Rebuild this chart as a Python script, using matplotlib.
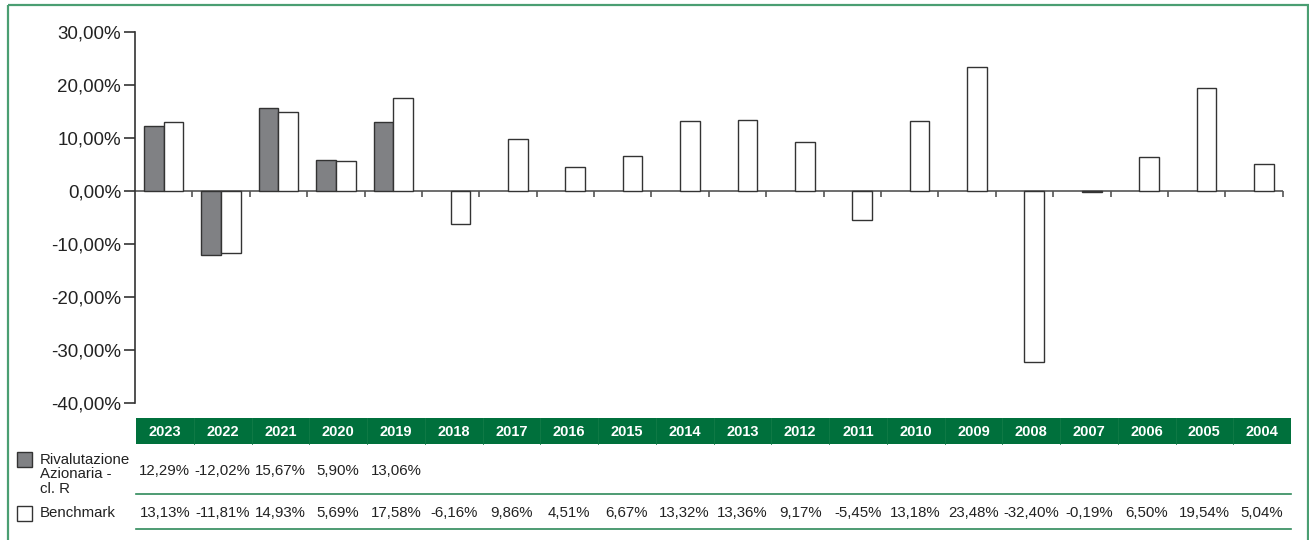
import numpy as np
import matplotlib
matplotlib.use("Agg")
import matplotlib.pyplot as plt
from matplotlib.patches import Rectangle

plt.rcParams['font.family'] = ['Liberation Sans', 'DejaVu Sans']

years = ["2023", "2022", "2021", "2020", "2019", "2018", "2017", "2016", "2015", "2014",
         "2013", "2012", "2011", "2010", "2009", "2008", "2007", "2006", "2005", "2004"]
fund = [12.29, -12.02, 15.67, 5.90, 13.06] + [None] * 15
bench = [13.13, -11.81, 14.93, 5.69, 17.58, -6.16, 9.86, 4.51, 6.67, 13.32,
         13.36, 9.17, -5.45, 13.18, 23.48, -32.40, -0.19, 6.50, 19.54, 5.04]
series_labels = ["Rivalutazione\nAzionaria -\ncl. R", "Benchmark"]
yticks = [30, 20, 10, 0, -10, -20, -30, -40]

W, H = 1309, 540
fig = plt.figure(figsize=(W / 100, H / 100), dpi=100)

GREEN = "#00703C"
BORDER = "#4A9E72"
LINE_GREEN = "#2F8A5A"
DARK = "#808184"
EDGE = "#333333"

# overlay in pixel coordinates
ov = fig.add_axes([0, 0, 1, 1], zorder=0)
ov.set_xlim(0, W)
ov.set_ylim(H, 0)
ov.axis("off")
ov.add_patch(Rectangle((8, 5), 1300, 545, fill=False, edgecolor=BORDER, lw=1.6, clip_on=False))

# main chart axes
x0, x1 = 135, 1282.7
ytop, ybot = 32.3, 402.6
ax = fig.add_axes([x0 / W, 1 - ybot / H, (x1 - x0) / W, (ybot - ytop) / H], zorder=2)
ax.patch.set_alpha(0)
n = len(years)
x = np.arange(n)
w = 0.343
fvals = [np.nan if v is None else v for v in fund]
ax.bar(x - w / 2, fvals, width=w, color=DARK, edgecolor=EDGE, linewidth=1.0, zorder=3)
ax.bar(x + w / 2, bench, width=w, color="white", edgecolor=EDGE, linewidth=1.0, zorder=3)
ax.set_xlim(-0.5, n - 0.5)
ax.set_ylim(-40, 30)
ax.axhline(0, color="#555555", lw=1.2, zorder=2)
ax.vlines(np.arange(1, n + 1) - 0.5, -1.2, 0, color="#555555", lw=1.2, zorder=2, clip_on=False)
for s in ["top", "right", "bottom"]:
    ax.spines[s].set_visible(False)
ax.spines["left"].set_color("#333333")
ax.spines["left"].set_linewidth(1.2)
ax.set_xticks([])
ax.set_yticks(yticks)
ax.set_yticklabels([f"{v:.2f}%".replace(".", ",") for v in yticks], fontsize=13.5, color="#222222")
ax.tick_params(axis="y", length=8, width=1.2, color="#333333", pad=2)

# table
tx0, tx1 = 136, 1291
cw = (tx1 - tx0) / n
ov.add_patch(Rectangle((tx0, 418), tx1 - tx0, 26, facecolor=GREEN, edgecolor="none"))
for j in range(1, n):
    ov.plot([tx0 + j * cw] * 2, [418, 444], color="#127B47", lw=0.6)
for j, yr in enumerate(years):
    cx = tx0 + (j + 0.5) * cw
    ov.text(cx, 431.5, yr, ha="center", va="center", color="white", fontsize=10.5, fontweight="bold")
    if fund[j] is not None:
        ov.text(cx, 471, f"{fund[j]:.2f}%".replace(".", ","), ha="center", va="center",
                fontsize=10.8, color="#222222")
    ov.text(cx, 513, f"{bench[j]:.2f}%".replace(".", ","), ha="center", va="center",
            fontsize=10.8, color="#222222")
ov.plot([tx0, tx1], [494, 494], color=LINE_GREEN, lw=1.2)
ov.plot([tx0, tx1], [529, 529], color=LINE_GREEN, lw=1.2)

# legend
ov.add_patch(Rectangle((17, 452), 15, 15, facecolor=DARK, edgecolor=EDGE, lw=1.0))
ov.text(40, 474.5, series_labels[0], ha="left", va="center", fontsize=10.8, color="#222222",
        linespacing=1.08)
ov.add_patch(Rectangle((17, 506), 15, 15, facecolor="white", edgecolor=EDGE, lw=1.0))
ov.text(40, 513, series_labels[1], ha="left", va="center", fontsize=10.8, color="#222222")

fig.savefig("out.png", dpi=100)
